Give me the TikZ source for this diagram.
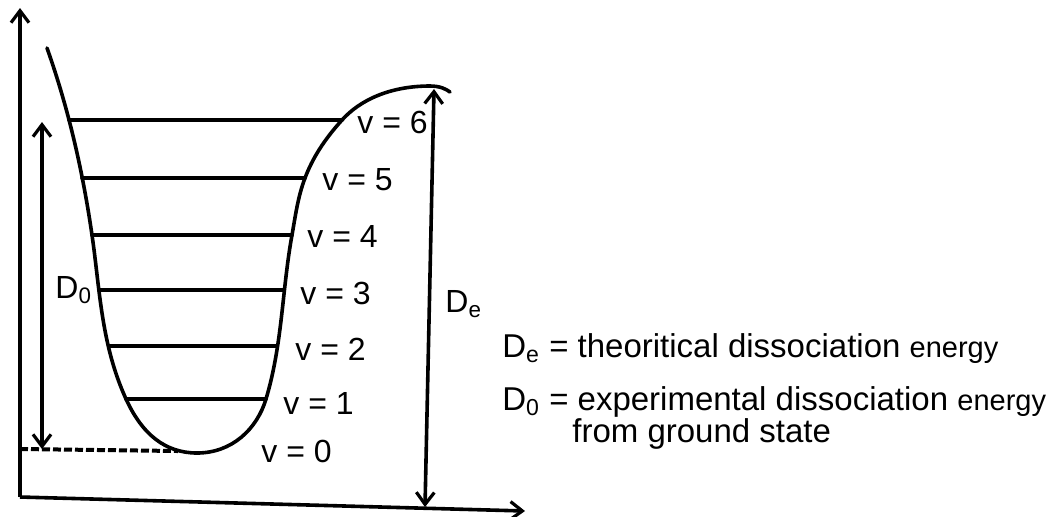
\documentclass[tikz,border=0pt]{standalone}
\usepackage{fontspec}
\setmainfont{Liberation Sans}
\usetikzlibrary{arrows.meta}
\begin{document}
\begin{tikzpicture}[x=0.5pt,y=-0.5pt,
  line/.style={line width=1.8pt, line cap=round},
  tip/.style={-{Straight Barb[length=6pt,width=9pt,line width=1.6pt]}},
  barb/.style={line width=1.8pt, tip},
  dbarb/.style={line width=1.8pt, {Straight Barb[length=6pt,width=9pt,line width=1.6pt]}-{Straight Barb[length=6pt,width=9pt,line width=1.6pt]}},
  vlab/.style={anchor=base west, inner sep=0pt, font=\fontsize{16}{19}\selectfont},
  leg/.style={anchor=base west, inner sep=0pt, font=\fontsize{16.5}{20}\selectfont}]
\useasboundingbox (0,0) rectangle (1047,516);
% axes
\coordinate (O) at (20,497);
\coordinate (ytip) at (20,8);
\coordinate (xtip) at (525,511);
\draw[barb] (O) -- (ytip);
\draw[barb] (O) -- (xtip);
% level end points (on the curve)
\coordinate (a6) at (69,120);  \coordinate (b6) at (342,120);
\coordinate (a5) at (82,178);  \coordinate (b5) at (305,178);
\coordinate (a4) at (92,235);  \coordinate (b4) at (292,235);
\coordinate (a3) at (99,290);  \coordinate (b3) at (284,290);
\coordinate (a2) at (109,346); \coordinate (b2) at (277,346);
\coordinate (a1) at (126,399); \coordinate (b1) at (266,399);
\coordinate (start) at (47,48);
\coordinate (bot) at (197,453);
\coordinate (peak) at (430,86);
\coordinate (fin) at (450,92);
% potential curve
\draw[line, line join=round]
  (start) .. controls (69,110) and (83,173) .. (a4)
          .. controls (100,290) and (101,344) .. (a1)
          .. controls (142,434) and (165,453) .. (bot)
          .. controls (232,453) and (257,429) .. (b1)
          .. controls (282.5,344) and (282,290) .. (b4)
          .. controls (295.4,216) and (297.8,197) .. (b5)
          .. controls (312.6,158) and (324,140) .. (b6)
          .. controls (360,100) and (390,86) .. (peak)
          .. controls (440,86) and (446,89) .. (fin);
% levels
\foreach \i in {1,...,6} { \draw[line] (a\i) -- (b\i); }
% dashed zero level
\coordinate (z0) at (20,449);
\coordinate (dz) at (178,451);
\draw[line width=2pt, dash pattern=on 4pt off 1.5pt] (z0) -- (dz);
% level labels
\node[vlab] (v6) at (357,133) {v = 6};
\node[vlab] (v5) at (322,190) {v = 5};
\node[vlab] (v4) at (307,247) {v = 4};
\node[vlab] (v3) at (300,304) {v = 3};
\node[vlab] (v2) at (295,360) {v = 2};
\node[vlab] (v1) at (283,414) {v = 1};
\node[vlab] (v0) at (261,462) {v = 0};
% D0 arrow
\coordinate (d0t) at (42,122);
\coordinate (d0b) at (42,449);
\draw[dbarb] (d0b) -- (d0t);
\node[vlab] (D0) at (55,298) {D\textsubscript{0}};
% De arrow
\coordinate (det) at (434,89);
\coordinate (deb) at (425,507);
\draw[dbarb] (deb) -- (det);
\node[vlab] (De) at (445,312) {D\textsubscript{e}};
% legend
\node[leg] (L1) at (502,357) {D\textsubscript{e} = theoritical dissociation {\fontsize{14.5}{17}\selectfont energy}};
\node[leg] (L2) at (502,410) {D\textsubscript{0} = experimental dissociation {\fontsize{14.5}{17}\selectfont energy}};
\node[leg] (L3) at (572,442) {from ground state};
\end{tikzpicture}
\end{document}
